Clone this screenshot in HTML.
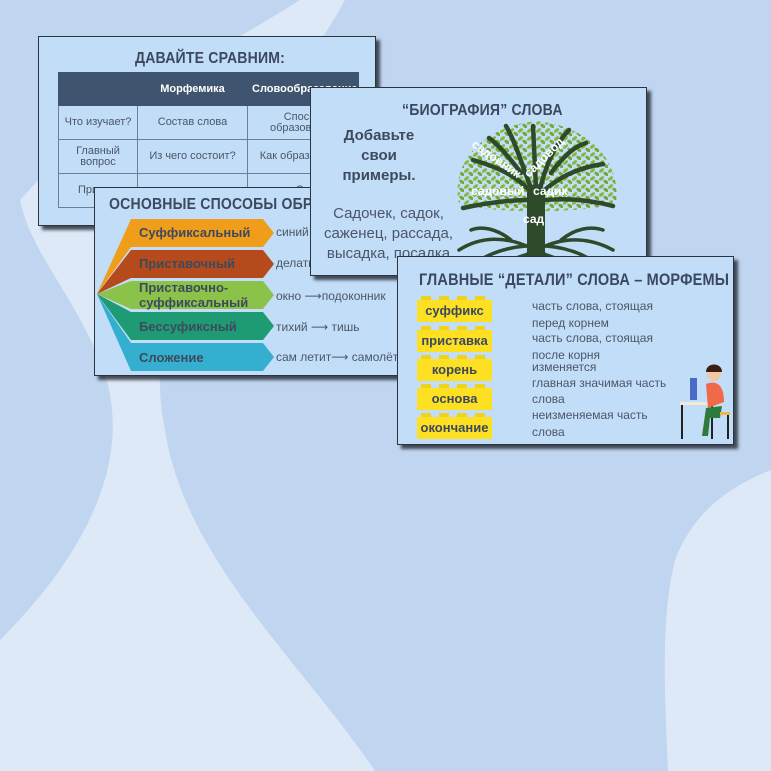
<!DOCTYPE html>
<html><head><meta charset="utf-8"><style>
*{margin:0;padding:0;box-sizing:border-box}
body{width:771px;height:771px;overflow:hidden;background:#c0d5ef;font-family:"Liberation Sans","DejaVu Sans",sans-serif;position:relative}
.bg{position:absolute;left:0;top:0}
.slide{position:absolute;background:#c2ddf7;border:1px solid #2c3440;box-shadow:4px 4px 3px rgba(20,25,35,.75);overflow:hidden;color:#3d4a5e}
.t{position:absolute;white-space:nowrap}
.title{font-weight:bold;font-size:16px;letter-spacing:0.2px;color:#3b4860;transform:scaleX(.88);transform-origin:left}
table{border-collapse:collapse;position:absolute;left:19px;top:35px;font-size:11px;color:#4b5668}
td{border:1px solid #6f7e90;text-align:center;line-height:11px;height:34px}
th{background:#3f556f;color:#fff;height:33px;font-size:11px;border:1px solid #3f556f}
.yb{position:absolute;left:19px;width:75px;height:22px;background:#fde022;font-weight:bold;font-size:13px;color:#3b4860;text-align:center;line-height:22px}
.yb:before{content:"";position:absolute;left:4px;right:4px;top:-4px;height:4px;background:repeating-linear-gradient(90deg,#f1d21a 0 10px,transparent 10px 18px)}
.d{position:absolute;left:134px;font-size:12px;color:#4b5668;white-space:nowrap}
</style></head><body>
<svg class="bg" width="771" height="771">
<path d="M300 0 L345 0 C280 120 130 260 165 430 C185 560 300 660 375 771 L0 771 L0 640 C80 560 140 460 100 360 C70 290 30 250 20 200 C90 120 220 50 300 0Z" fill="#dde9f7"/>
<path d="M771 470 C720 490 690 520 675 560 C660 620 665 700 668 771 L771 771Z" fill="#dde9f7"/>
</svg>

<!-- slide 1 -->
<div class="slide" style="left:38px;top:36px;width:338px;height:190px">
<div class="t title" style="left:96px;top:13px">ДАВАЙТЕ СРАВНИМ:</div>
<table>
<tr><th style="width:79px"></th><th style="width:110px">Морфемика</th><th style="width:110px;text-align:left;padding-left:4px">Словообразование</th></tr>
<tr><td>Что изучает?</td><td>Состав слова</td><td>Способ<br>образования</td></tr>
<tr><td>Главный<br>вопрос</td><td>Из чего состоит?</td><td>Как образовано?</td></tr>
<tr><td>Пример</td><td></td><td>Сл</td></tr>
</table>
</div>

<!-- slide 3 -->
<div class="slide" style="left:94px;top:187px;width:340px;height:189px">
<div class="t title" style="left:14px;top:8px">ОСНОВНЫЕ СПОСОБЫ ОБРАЗОВАНИЯ</div>
<svg width="340" height="189" style="position:absolute;left:0;top:0">
<polygon points="2,106 36,31 168,31 179,45 168,59 36,59" fill="#f19d1c"/>
<polygon points="2,106 36,62 168,62 179,76 168,90 36,90" fill="#b54a1c"/>
<polygon points="2,106 36,93 168,93 179,107 168,121 36,121" fill="#8bc24a"/>
<polygon points="2,106 36,124 168,124 179,138 168,152 36,152" fill="#1f9b74"/>
<polygon points="2,106 36,155 168,155 179,169 168,183 36,183" fill="#35afd0"/>
</svg>
<div class="t" style="left:44px;top:37px;font-weight:bold;font-size:13px;color:#3d4a5e">Суффиксальный</div>
<div class="t" style="left:44px;top:68px;font-weight:bold;font-size:13px;color:#3d4a5e">Приставочный</div>
<div class="t" style="left:44px;top:92px;font-weight:bold;font-size:13px;line-height:15px;color:#3d4a5e">Приставочно-<br>суффиксальный</div>
<div class="t" style="left:44px;top:131px;font-weight:bold;font-size:13px;color:#3d4a5e">Бессуфиксный</div>
<div class="t" style="left:44px;top:162px;font-weight:bold;font-size:13px;color:#3d4a5e">Сложение</div>
<div class="t" style="left:181px;top:37px;font-size:12px;color:#4b5668">синий</div>
<div class="t" style="left:181px;top:68px;font-size:12px;color:#4b5668">делать</div>
<div class="t" style="left:181px;top:101px;font-size:12px;color:#4b5668">окно ⟶подоконник</div>
<div class="t" style="left:181px;top:132px;font-size:12px;color:#4b5668">тихий ⟶ тишь</div>
<div class="t" style="left:181px;top:162px;font-size:12px;color:#4b5668">сам летит⟶ самолёт</div>
</div>

<!-- slide 2 -->
<div class="slide" style="left:310px;top:87px;width:337px;height:189px">
<div class="t title" style="left:91px;top:14px">“БИОГРАФИЯ” СЛОВА</div>
<div class="t" style="left:0;width:136px;text-align:center;top:38px;font-weight:bold;font-size:15px;line-height:20px;color:#3d4a5e">Добавьте<br>свои<br>примеры.</div>
<div class="t" style="left:0;width:155px;text-align:center;top:116px;font-size:15px;line-height:20px;color:#4b5668">Садочек, садок,<br>саженец, рассада,<br>высадка, посадка</div>
<svg width="337" height="189" style="position:absolute;left:0;top:0">
<defs>
<pattern id="lv" width="9" height="8" patternUnits="userSpaceOnUse">
<ellipse cx="2.5" cy="2.5" rx="3" ry="1.7" fill="#86b83c" transform="rotate(-40 2.5 2.5)"/>
<ellipse cx="7" cy="6" rx="3" ry="1.7" fill="#76a936" transform="rotate(35 7 6)"/>
</pattern>
</defs>
<path d="M148 115 C140 80 165 40 225 33 C280 38 310 75 305 115 C280 125 180 127 148 115Z" fill="url(#lv)"/>
<g stroke="#2f4a2a" fill="none" stroke-linecap="round">
<path d="M225 170 L225 105" stroke-width="18"/>
<path d="M225 110 C210 90 190 80 162 72 M225 110 C245 90 265 80 292 76 M222 105 C210 75 205 55 195 38 M228 105 C235 75 245 55 258 42 M225 100 L222 38 M218 112 C195 112 175 115 152 120 M232 112 C255 110 280 112 302 118 M210 85 C195 65 185 55 178 50 M240 85 C255 65 265 58 275 55" stroke-width="4.5"/>
<path d="M220 160 C195 148 170 148 148 162 M230 160 C255 148 280 150 302 162 M222 165 C200 170 180 180 170 195 M228 165 C250 170 265 180 280 195 M225 165 C222 175 215 185 212 195 M225 165 C230 175 238 185 240 195 M215 158 C190 160 165 170 155 185 M235 158 C260 160 285 170 292 185 M218 165 C198 178 190 188 185 195 M232 165 C252 178 262 188 266 195 M200 152 C185 140 170 138 160 142 M250 152 C265 140 280 138 292 142" stroke-width="3.5"/>
</g>
<g fill="#fff" font-weight="bold" font-size="12" font-family="Liberation Sans,sans-serif">
<text x="212" y="135">сад</text>
<text x="160" y="107">садовый</text>
<text x="222" y="107">садик</text>
<text x="160" y="58" transform="rotate(35 160 58)">садовник</text>
<text x="218" y="90" transform="rotate(-45 218 90)">садовод</text>
</g>
</svg>
</div>

<!-- slide 4 -->
<div class="slide" style="left:397px;top:256px;width:337px;height:189px">
<div class="t title" style="left:21px;top:14px;font-size:16.5px">ГЛАВНЫЕ “ДЕТАЛИ” СЛОВА – МОРФЕМЫ</div>
<div class="yb" style="top:43px">суффикс</div>
<div class="yb" style="top:73px">приставка</div>
<div class="yb" style="top:102px">корень</div>
<div class="yb" style="top:131px">основа</div>
<div class="yb" style="top:160px">окончание</div>
<div class="d" style="top:42px">часть слова, стоящая</div>
<div class="d" style="top:59px">перед корнем</div>
<div class="d" style="top:74px">часть слова, стоящая</div>
<div class="d" style="top:91px">после корня</div>
<div class="d" style="top:103px">изменяется</div>
<div class="d" style="top:119px">главная значимая часть</div>
<div class="d" style="top:135px">слова</div>
<div class="d" style="top:151px">неизменяемая часть</div>
<div class="d" style="top:168px">слова</div>
<svg width="60" height="80" style="position:absolute;left:278px;top:105px">
<rect x="4" y="40" width="38" height="3" fill="#f4e9d8"/>
<line x1="6" y1="43" x2="6" y2="77" stroke="#222" stroke-width="2"/>
<line x1="36" y1="43" x2="36" y2="77" stroke="#222" stroke-width="2"/>
<rect x="14" y="16" width="7" height="22" fill="#4a6ac8"/>
<circle cx="38" cy="12" r="7" fill="#f0c8a8"/>
<path d="M30 10 C30 0 46 0 46 10 Z" fill="#3a1e12"/>
<path d="M30 22 C40 18 48 22 48 40 L32 46 Z" fill="#f06a4a"/>
<path d="M30 46 L46 44 L44 56 L34 56 L32 74 L26 74 Z" fill="#2e7a3a"/>
<rect x="44" y="50" width="10" height="3" fill="#e8b84a"/>
<line x1="52" y1="53" x2="52" y2="77" stroke="#222" stroke-width="2"/>
</svg>
</div>
</body></html>
